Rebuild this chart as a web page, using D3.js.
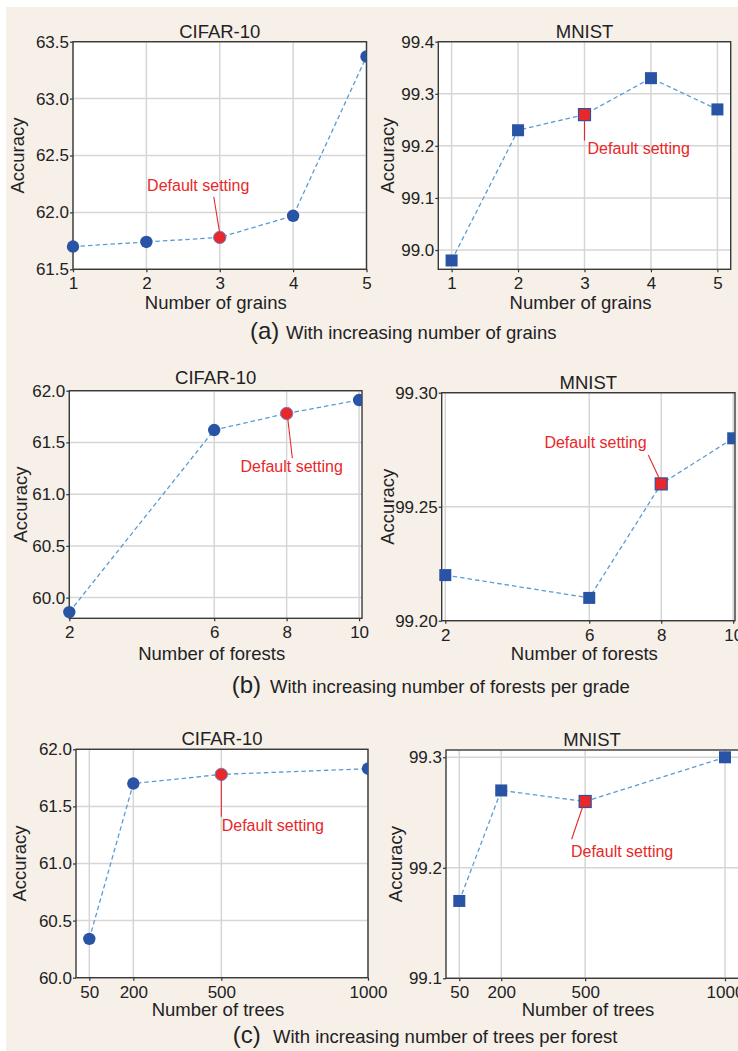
<!DOCTYPE html>
<html>
<head>
<meta charset="utf-8">
<script src="https://cdn.jsdelivr.net/npm/d3@7"></script>
<style>
  html, body { margin: 0; padding: 0; background: #fff; }
  svg { display: block; font-family: "Liberation Sans", Arial, sans-serif; }
  .tick text { font-size: 17px; fill: #222; }
  .tick line { stroke: #333; stroke-width: 1.2; }
</style>
</head>
<body>
<svg id="fig" width="738" height="1051"></svg>
<script>
// values
const grainsX = [1, 2, 3, 4, 5];
const grainsCifar = [61.70, 61.74, 61.78, 61.97, 63.37];
const grainsMnist = [98.98, 99.23, 99.26, 99.33, 99.27];

const forestsX = [2, 6, 8, 10];
const forestsCifar = [59.86, 61.62, 61.78, 61.91];
const forestsMnist = [99.22, 99.21, 99.26, 99.28];

const treesX = [50, 200, 500, 1000];
const treesCifar = [60.34, 61.70, 61.78, 61.83];
const treesMnist = [99.17, 99.27, 99.26, 99.30];

const cifarGrainTicks = [61.5, 62.0, 62.5, 63.0, 63.5];
const mnistGrainTicks = [99.0, 99.1, 99.2, 99.3, 99.4];
const cifarForestTicks = [60.0, 60.5, 61.0, 61.5, 62.0];
const mnistForestTicks = [99.20, 99.25, 99.30];
const cifarTreeTicks = [60.0, 60.5, 61.0, 61.5, 62.0];
const mnistTreeTicks = [99.1, 99.2, 99.3];

const defaultIndex = 2; // 3 grains, 8 forests, 500 trees

const xTitles = ['Number of grains', 'Number of forests', 'Number of trees'];
const captions = [
  ['(a)', 'With increasing number of grains'],
  ['(b)', 'With increasing number of forests per grade'],
  ['(c)', 'With increasing number of trees per forest']
];

const BLUE = '#2953a4';
const RED = '#e8282a';
const LINE = '#5b9bd3';
const GRID = '#d6d6d6';
const TEXT = '#222';

const svg = d3.select('#fig');

svg.append('rect').attr('x', 6).attr('y', 7).attr('width', 732).attr('height', 1044).attr('fill', '#f6f0e9');

const panels = [
  { title: 'CIFAR-10', xs: grainsX, ys: grainsCifar, yTicks: cifarGrainTicks, fmt: '.1f', shape: 'circle',
    left: 73, right: 366.5, top: 41.7, bottom: 269.3, xDom: [1, 5], yDom: [61.5, 63.5],
    titleY: 38.3, ylabX: 24, xTitle: xTitles[0], xTitleY: 308.6,
    ann: { line: [-6, -40.7, 0, -4], text: [-21.5, -46.5], anchor: 'middle' } },
  { title: 'MNIST', xs: grainsX, ys: grainsMnist, yTicks: mnistGrainTicks, fmt: '.1f', shape: 'square',
    left: 438.3, right: 730.7, top: 41.7, bottom: 269.3, xDom: [0.8, 5.2], yDom: [98.963, 99.4],
    titleY: 38.3, ylabX: 394, xTitle: xTitles[0], xTitleY: 308.6,
    ann: { line: [0, 6, 0, 26], text: [3, 39.5], anchor: 'start' } },
  { title: 'CIFAR-10', xs: forestsX, ys: forestsCifar, yTicks: cifarForestTicks, fmt: '.1f', shape: 'circle',
    left: 69.3, right: 362, top: 390.7, bottom: 618.3, xDom: [2, 10.08], yDom: [59.8, 62.0],
    titleY: 384, ylabX: 27, xTitle: xTitles[1], xTitleY: 659.6,
    ann: { line: [0.7, 1.5, 5.7, 44.8], text: [5, 58.5], anchor: 'middle' } },
  { title: 'MNIST', xs: forestsX, ys: forestsMnist, yTicks: mnistForestTicks, fmt: '.2f', shape: 'square',
    left: 441.7, right: 735, top: 392.7, bottom: 620.7, xDom: [1.9, 10.05], yDom: [99.20, 99.30],
    titleY: 389, ylabX: 394, xTitle: xTitles[1], xTitleY: 660,
    ann: { line: [-12.9, -28.9, -1.2, -3.9], text: [-65.7, -35.9], anchor: 'middle' } },
  { title: 'CIFAR-10', xs: treesX, ys: treesCifar, yTicks: cifarTreeTicks, fmt: '.1f', shape: 'circle',
    left: 76, right: 368, top: 749.3, bottom: 977.7, xDom: [4.6, 1000], yDom: [60.0, 62.0],
    titleY: 745, ylabX: 26, xTitle: xTitles[2], xTitleY: 1016,
    ann: { line: [0, 4, 0, 42.3], text: [0.4, 56.6], anchor: 'start' } },
  { title: 'MNIST', xs: treesX, ys: treesMnist, yTicks: mnistTreeTicks, fmt: '.1f', shape: 'square',
    left: 446, right: 740, top: 750, bottom: 978.3, xDom: [2.5, 1053.6], yDom: [99.1, 99.3066],
    titleY: 745.5, ylabX: 402, xTitle: xTitles[2], xTitleY: 1016,
    ann: { line: [-1.9, 3.5, -13.5, 37.8], text: [-14.2, 55.5], anchor: 'start' } }
];

panels.forEach((p, i) => {
  const g = svg.append('g');
  const x = d3.scaleLinear().domain(p.xDom).range([p.left, p.right]);
  const y = d3.scaleLinear().domain(p.yDom).range([p.bottom, p.top]);
  const midX = (p.left + Math.min(p.right, 738)) / 2;

  g.append('rect')
    .attr('x', p.left).attr('y', p.top)
    .attr('width', p.right - p.left).attr('height', p.bottom - p.top)
    .attr('fill', '#fff');

  // grid
  g.selectAll('.gx').data(p.xs).join('line')
    .attr('x1', d => x(d)).attr('x2', d => x(d))
    .attr('y1', p.top).attr('y2', p.bottom)
    .attr('stroke', GRID).attr('stroke-width', 1.5);
  g.selectAll('.gy').data(p.yTicks).join('line')
    .attr('x1', p.left).attr('x2', p.right)
    .attr('y1', d => y(d)).attr('y2', d => y(d))
    .attr('stroke', GRID).attr('stroke-width', 1.5);

  // axes
  const xAxis = g.append('g')
    .attr('transform', `translate(0,${p.bottom})`)
    .call(d3.axisBottom(x).tickValues(p.xs).tickFormat(d3.format('d')).tickSize(3).tickPadding(5));
  xAxis.select('.domain').remove();

  const yAxis = g.append('g')
    .attr('transform', `translate(${p.left},0)`)
    .call(d3.axisLeft(y).tickValues(p.yTicks).tickFormat(d3.format(p.fmt)).tickSize(3).tickPadding(1));
  yAxis.select('.domain').remove();

  g.append('rect')
    .attr('x', p.left).attr('y', p.top)
    .attr('width', p.right - p.left).attr('height', p.bottom - p.top)
    .attr('fill', 'none').attr('stroke', '#3a3a3a').attr('stroke-width', 1.4);

  // markers are cut at the right edge of the plot
  const clipId = `clip${i}`;
  svg.append('clipPath').attr('id', clipId)
    .append('rect')
    .attr('x', p.left - 20).attr('y', p.top - 20)
    .attr('width', p.right - p.left + 20).attr('height', p.bottom - p.top + 40);

  const pts = p.xs.map((d, k) => [d, p.ys[k]]);
  const data = g.append('g').attr('clip-path', `url(#${clipId})`);

  data.append('path')
    .datum(pts)
    .attr('d', d3.line().x(d => x(d[0])).y(d => y(d[1])))
    .attr('fill', 'none')
    .attr('stroke', LINE)
    .attr('stroke-width', 1.3)
    .attr('stroke-dasharray', '4.5,3');

  if (p.shape === 'circle') {
    data.selectAll('circle').data(pts).join('circle')
      .attr('cx', d => x(d[0])).attr('cy', d => y(d[1]))
      .attr('r', 6.2)
      .attr('fill', (d, k) => k === defaultIndex ? RED : BLUE)
      .attr('stroke', (d, k) => k === defaultIndex ? '#6f86c4' : 'none')
      .attr('stroke-width', 1);
  } else {
    const s = 12;
    data.selectAll('rect.m').data(pts).join('rect')
      .attr('class', 'm')
      .attr('x', d => x(d[0]) - s / 2).attr('y', d => y(d[1]) - s / 2)
      .attr('width', s).attr('height', s)
      .attr('fill', (d, k) => k === defaultIndex ? RED : BLUE)
      .attr('stroke', (d, k) => k === defaultIndex ? BLUE : 'none')
      .attr('stroke-width', 1.2);
  }

  // "Default setting" callout
  const px = x(p.xs[defaultIndex]);
  const py = y(p.ys[defaultIndex]);
  const a = p.ann;
  g.append('line')
    .attr('x1', px + a.line[0]).attr('y1', py + a.line[1])
    .attr('x2', px + a.line[2]).attr('y2', py + a.line[3])
    .attr('stroke', RED).attr('stroke-width', 1.1);
  g.append('text')
    .attr('x', px + a.text[0]).attr('y', py + a.text[1])
    .attr('text-anchor', a.anchor)
    .attr('font-size', 16).attr('fill', RED)
    .text('Default setting');

  // titles
  g.append('text')
    .attr('x', midX).attr('y', p.titleY)
    .attr('text-anchor', 'middle').attr('font-size', 18.5).attr('fill', TEXT)
    .text(p.title);
  g.append('text')
    .attr('x', midX - 4).attr('y', p.xTitleY)
    .attr('text-anchor', 'middle').attr('font-size', 18.5).attr('fill', TEXT)
    .text(p.xTitle);
  g.append('text')
    .attr('transform', `translate(${p.ylabX},${(p.top + p.bottom) / 2}) rotate(-90)`)
    .attr('text-anchor', 'middle').attr('font-size', 18.5).attr('fill', TEXT)
    .text('Accuracy');
});

// sub-figure captions
const capPos = [
  { x: 250, x2: 286, y: 339 },
  { x: 231.7, x2: 270, y: 693 },
  { x: 232.7, x2: 273, y: 1043 }
];
captions.forEach(([tag, txt], i) => {
  const c = capPos[i];
  svg.append('text').attr('x', c.x).attr('y', c.y)
    .attr('font-size', 24).attr('fill', TEXT).text(tag);
  svg.append('text').attr('x', c.x2).attr('y', c.y)
    .attr('font-size', 18.5).attr('fill', TEXT).text(txt);
});
</script>
</body>
</html>
